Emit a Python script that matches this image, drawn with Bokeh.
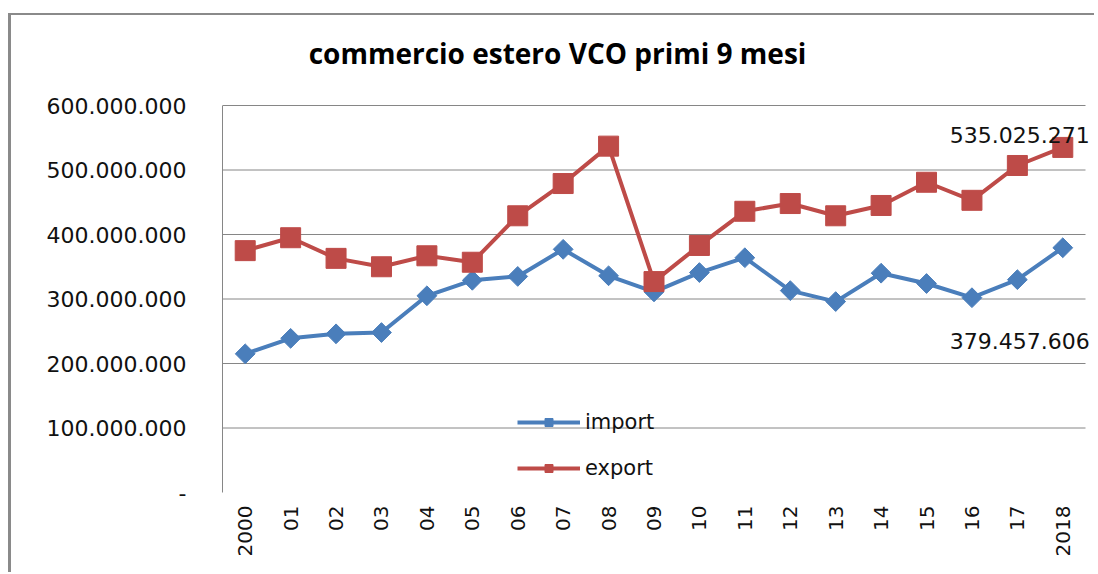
import math
from bokeh.plotting import figure
from bokeh.models import Range1d, FixedTicker, Label, Legend, LegendItem, ColumnDataSource
from bokeh.embed import file_html
from bokeh.resources import INLINE

# ---- data ----
years = ["2000", "01", "02", "03", "04", "05", "06", "07", "08", "09",
         "10", "11", "12", "13", "14", "15", "16", "17", "2018"]
import_vals = [215e6, 239e6, 246e6, 248e6, 305e6, 329e6, 335e6, 377e6, 336e6, 311e6,
               341e6, 364e6, 313e6, 296e6, 340e6, 324e6, 302e6, 330e6, 379457606]
export_vals = [375e6, 395e6, 363e6, 350e6, 367e6, 357e6, 429e6, 479e6, 537e6, 327e6,
               383e6, 436e6, 448e6, 429e6, 445e6, 481e6, 453e6, 507e6, 535025271]
y_ticks = [0, 100000000, 200000000, 300000000, 400000000, 500000000, 600000000]
y_tick_labels = ["-", "100.000.000", "200.000.000", "300.000.000",
                 "400.000.000", "500.000.000", "600.000.000"]
title_text = "commercio estero VCO primi 9 mesi"
series_names = ["import", "export"]
last_export_label = "535.025.271"
last_import_label = "379.457.606"

BLUE = "#4a7ebb"
RED = "#be4b48"
GRID = "#868686"

n = len(years)
y_max = y_ticks[-1]
# frame: 863 px wide for the 19 categories, 387 px tall for 0..600M,
# extended up (title) and right (end labels)
x_end = -0.5 + 875 / (863 / n)
y_end = y_max * 462 / 387

p = figure(width=1086, height=559, output_backend="svg", toolbar_location=None,
           x_range=Range1d(-0.5, x_end), y_range=Range1d(0, y_end),
           min_border_left=211, min_border_right=0, min_border_top=15, min_border_bottom=82,
           outline_line_color=None, background_fill_color="white", border_fill_color="white")
p.styles = {"border-left": "3px solid #8a8a8a", "border-top": "2px solid #8a8a8a",
            "position": "relative", "left": "8px", "top": "13px"}

p.xgrid.visible = False
p.ygrid.visible = False

gsrc = ColumnDataSource(dict(y=y_ticks[1:], x0=[-0.5] * (len(y_ticks) - 1),
                             x1=[n - 0.5] * (len(y_ticks) - 1)))
p.segment(x0="x0", x1="x1", y0="y", y1="y", source=gsrc, line_color=GRID, line_width=1)

src = ColumnDataSource(dict(x=list(range(n)), imp=import_vals, exp=export_vals))

r_il = p.line("x", "imp", source=src, line_color=BLUE, line_width=4)
r_im = p.scatter("x", "imp", source=src, marker="square", angle=math.pi / 4, size=14,
                 fill_color=BLUE, line_color=BLUE)
r_el = p.line("x", "exp", source=src, line_color=RED, line_width=4)
r_em = p.scatter("x", "exp", source=src, marker="square", size=20,
                 fill_color=RED, line_color=RED)

ya = p.yaxis[0]
ya.ticker = FixedTicker(ticks=y_ticks)
ya.bounds = (0, y_max)
ya.major_label_overrides = dict(zip(y_ticks, y_tick_labels))
ya.axis_line_color = GRID
ya.major_tick_line_color = None
ya.minor_tick_line_color = None
ya.major_tick_out = 0
ya.major_tick_in = 0
ya.major_label_standoff = 36
ya.major_label_text_font = "DejaVu Sans"
ya.major_label_text_font_size = "22px"
ya.major_label_text_color = "#111111"

xa = p.xaxis[0]
xa.ticker = FixedTicker(ticks=list(range(n)))
xa.major_label_overrides = {i: y for i, y in enumerate(years)}
xa.major_label_orientation = math.pi / 2
xa.axis_line_color = None
xa.major_tick_line_color = None
xa.minor_tick_line_color = None
xa.major_tick_out = 0
xa.major_tick_in = 0
xa.major_label_standoff = 13
xa.major_label_text_font = "DejaVu Sans"
xa.major_label_text_font_size = "20px"
xa.major_label_text_color = "#111111"

legend = Legend(items=[LegendItem(label=series_names[0], renderers=[r_il, r_im]),
                       LegendItem(label=series_names[1], renderers=[r_el, r_em])],
                location=(295, 12), border_line_color=None, background_fill_alpha=0,
                padding=0, margin=0, glyph_width=63, glyph_height=20, spacing=22,
                label_standoff=5, label_text_font="DejaVu Sans", label_text_font_size="21px",
                label_text_color="#111111")
p.add_layout(legend)

p.add_layout(Label(x=6.876, y=y_max * 440 / 387, text=title_text, text_align="center",
                   text_baseline="middle", text_font="Open Sans", text_font_style="bold",
                   text_font_size="28px", text_color="#000000"))
p.add_layout(Label(x=n - 1, y=export_vals[-1], text=last_export_label, x_offset=27, y_offset=12,
                   text_align="right", text_baseline="middle", text_font="DejaVu Sans",
                   text_font_size="22px", text_color="#111111"))
p.add_layout(Label(x=n - 1, y=import_vals[-1], text=last_import_label, x_offset=27, y_offset=-93,
                   text_align="right", text_baseline="middle", text_font="DejaVu Sans",
                   text_font_size="22px", text_color="#111111"))

open("out.html", "w").write(file_html(p, INLINE))
